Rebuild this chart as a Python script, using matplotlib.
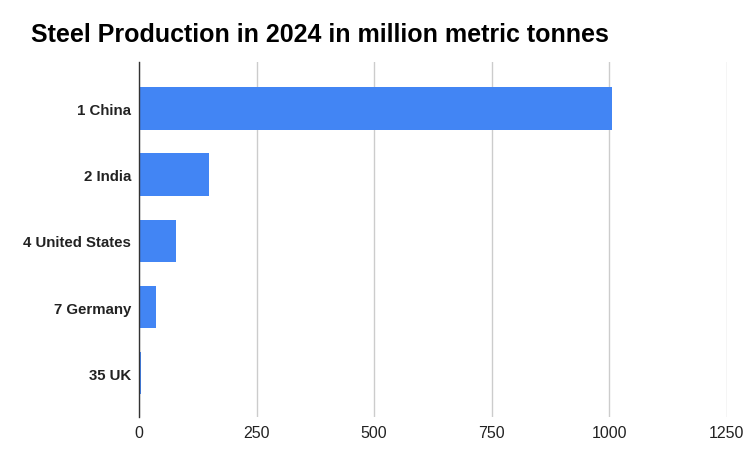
import matplotlib
matplotlib.use("Agg")
import matplotlib.pyplot as plt

plt.rcParams["font.family"] = ["Liberation Sans", "DejaVu Sans"]

countries = ["1 China", "2 India", "4 United States", "7 Germany", "35 UK"]
production = [1005, 149.5, 78, 35.5, 4.3]
x_ticks = [0, 250, 500, 750, 1000, 1250]

fig = plt.figure(figsize=(7.5, 4.64), dpi=100)
ax = fig.add_axes([139 / 750, 1 - 418 / 464, (726.7 - 139) / 750, (418 - 63) / 464])

ax.barh(range(len(countries)), production, height=0.64, color="#4285F4", zorder=3)

ax.set_xlim(0, 1250)
ax.set_ylim(4.66, -0.70)
ax.set_xticks(x_ticks)
ax.set_xticklabels([str(t) for t in x_ticks], fontsize=11.5, color="#222222")
ax.set_yticks(range(len(countries)))
ax.set_yticklabels(countries, fontsize=10.8, fontweight="bold", color="#222222")

ax.grid(axis="x", color="#cccccc", linewidth=1, zorder=0)
for side in ["top", "right", "bottom"]:
    ax.spines[side].set_visible(False)
ax.spines["left"].set_color("#333333")
ax.spines["left"].set_linewidth(1)
ax.spines["left"].set_zorder(4)
ax.tick_params(axis="both", length=0)
ax.tick_params(axis="y", pad=5.5)
ax.tick_params(axis="x", pad=6)

fig.text(31 / 750, 1 - 35 / 464, "Steel Production in 2024 in million metric tonnes",
         fontsize=18, fontweight="bold", va="center", ha="left", color="#000000")

fig.savefig("out.png", dpi=100)
